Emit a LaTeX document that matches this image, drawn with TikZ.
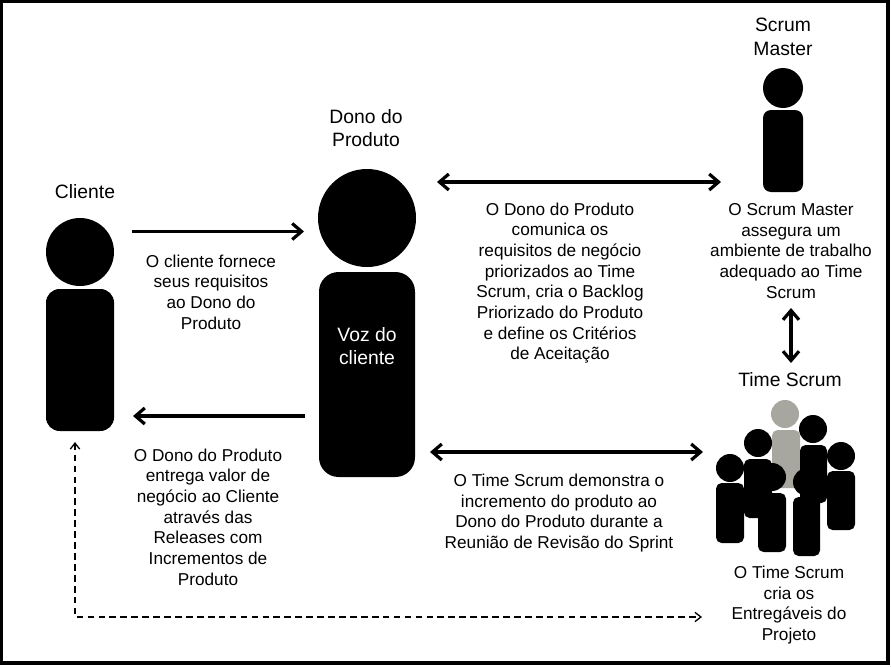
\documentclass[tikz,border=0pt]{standalone}
\usepackage{fontspec}
\setmainfont{Liberation Sans}
\usetikzlibrary{arrows.meta}
\definecolor{teamgrey}{HTML}{A8A79F}
\tikzset{
  x=0.75pt,y=-0.75pt,
  txt/.style={align=center,inner sep=0pt,font=\fontsize{12.9}{15.5}\selectfont,text=black},
  ttl/.style={align=center,inner sep=0pt,font=\fontsize{14.5}{17.6}\selectfont,text=black},
  arr/.style={line width=2.6pt,-{Straight Barb[length=7pt,width=12pt,line width=2.4pt]}},
  darr/.style={line width=2.6pt,{Straight Barb[length=7pt,width=12pt,line width=2.4pt]}-{Straight Barb[length=7pt,width=12pt,line width=2.4pt]}},
  dash arr/.style={line width=1.1pt,dash pattern=on 5pt off 3.2pt,{Straight Barb[length=4.5pt,width=7pt,line width=1pt]}-{Straight Barb[length=4.5pt,width=7pt,line width=1pt]}},
}
\newcommand{\person}[9]{% name, cx, cy, r, left, top, right, bottom, colour
  \fill[#9] (#2,#3) circle[radius=#4];
  \fill[#9,rounded corners=#4*0.3pt] (#5,#6) rectangle (#7,#8);
  \coordinate (#1) at (#2,#3);
}
\begin{document}
\begin{tikzpicture}
\useasboundingbox (0,0) rectangle (891,667);
\fill[white] (0,0) rectangle (891,667);
\draw[line width=2.3pt,black] (1.5,1.5) rectangle (888,663);

% people
\person{cliente}{80}{252}{34}{46}{289}{114}{431}{black}
\person{dono}{367}{218}{49}{319}{272}{415}{477}{black}
\person{master}{783}{88}{20}{763}{110}{803}{192}{black}
\person{t0}{785}{414}{14}{772}{430}{800}{488}{teamgrey}
\person{t1}{730}{468}{14}{716}{483}{744}{543}{black}
\person{t2}{758}{443}{14}{744}{459}{772}{518}{black}
\person{t3}{772}{477}{14}{758}{493}{786}{552}{black}
\person{t4}{813}{429}{14}{800}{445}{827}{503}{black}
\person{t5}{807}{482}{14}{793}{497}{820}{556}{black}
\person{t6}{841}{456}{14}{827}{471}{855}{530}{black}

% titles
\node[ttl] (lcliente) at (85,192) {Cliente};
\node[ttl] (ldono) at (366,128) {Dono do\\Produto};
\node[ttl] (lmaster) at (783,37) {Scrum\\Master};
\node[ttl] (ltime) at (790,380) {Time Scrum};
\node[ttl,text=white] (lvoz) at (367,346) {Voz do\\cliente};

% descriptions
\node[txt] (n1) at (211,292) {O cliente fornece\\seus requisitos\\ao Dono do\\Produto};
\node[txt] (n2) at (208,517) {O Dono do Produto\\entrega valor de\\negócio ao Cliente\\através das\\Releases com\\Incrementos de\\Produto};
\node[txt] (n3) at (560,283) {O Dono do Produto\\comunica os\\requisitos de negócio\\priorizados ao Time\\Scrum, cria o Backlog\\Priorizado do Produto\\e define os Critérios\\de Aceitação};
\node[txt] (n4) at (791,251) {O Scrum Master\\assegura um\\ambiente de trabalho\\adequado ao Time\\Scrum};
\node[txt] (n5) at (559,513) {O Time Scrum demonstra o\\incremento do produto ao\\Dono do Produto durante a\\Reunião de Revisão do Sprint};
\node[txt] (n6) at (789,605) {O Time Scrum\\cria os\\Entregáveis do\\Projeto};

% connector ends
\coordinate (a1) at (132,231.5);
\coordinate (a2) at (304,231.5);
\coordinate (b1) at (305,416);
\coordinate (b2) at (133,416);
\coordinate (c1) at (437,182);
\coordinate (c2) at (721,182);
\coordinate (d1) at (430,452);
\coordinate (d2) at (703,452);
\coordinate (e1) at (791,308);
\coordinate (e2) at (791,363);
\coordinate (f1) at (75,442);
\coordinate (f2) at (75,617);
\coordinate (f3) at (702,617);

\draw[arr] (a1) -- (a2);
\draw[arr] (b1) -- (b2);
\draw[darr] (c1) -- (c2);
\draw[darr] (d1) -- (d2);
\draw[darr] (e1) -- (e2);
\draw[dash arr] (f1) -- (f2) -- (f3);
\end{tikzpicture}
\end{document}
